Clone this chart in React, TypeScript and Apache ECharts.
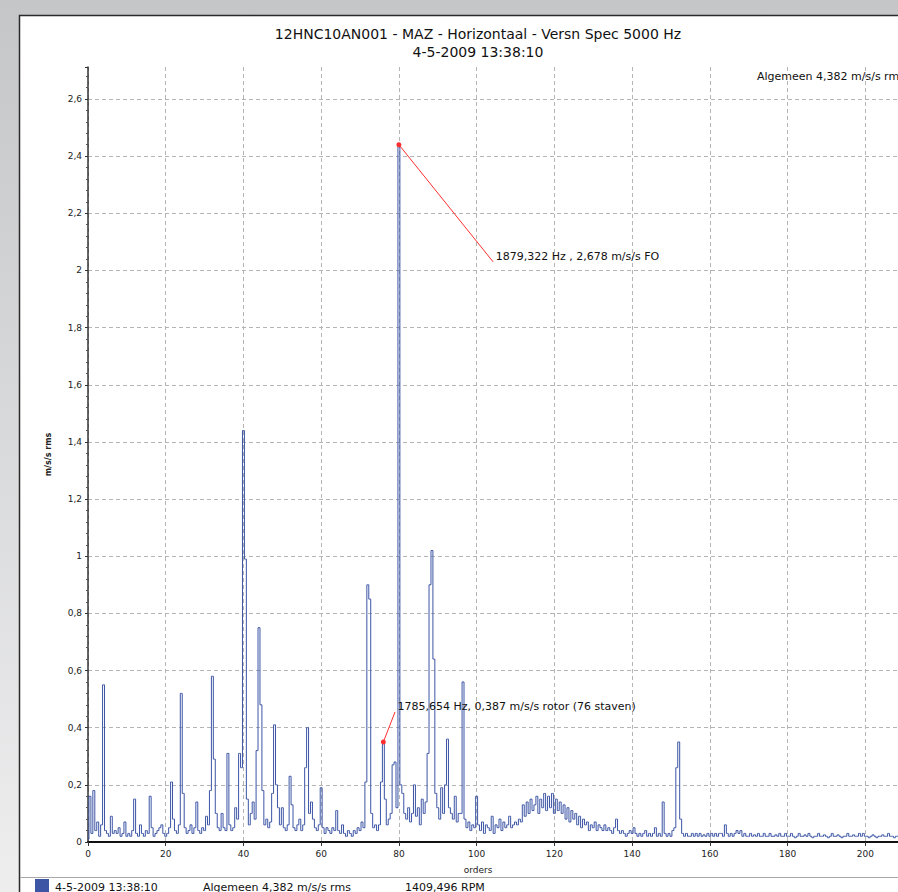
import React, { useEffect, useRef } from "react";
import * as echarts from "echarts";

// ---- data (orders 0..210, step 0.5) ----
const orderStep = 0.5;
const amp000 = [0.01,0.16,0.03,0.18,0.04,0.07,0.02,0.06,0.55,0.04,0.03,0.02,0.09,0.03,0.04,0.03,0.05,0.02,0.03,0.07];
const amp010 = [0.02,0.03,0.02,0.04,0.15,0.03,0.02,0.06,0.03,0.02,0.04,0.03,0.16,0.05,0.02,0.03,0.04,0.05,0.06,0.03];
const amp020 = [0.02,0.03,0.05,0.21,0.08,0.04,0.03,0.06,0.52,0.17,0.05,0.03,0.04,0.06,0.03,0.05,0.14,0.04,0.03,0.05];
const amp030 = [0.04,0.09,0.06,0.18,0.58,0.29,0.1,0.05,0.04,0.1,0.05,0.04,0.31,0.06,0.04,0.05,0.12,0.08,0.31,0.26];
const amp040 = [1.44,0.99,0.15,0.06,0.1,0.14,0.08,0.32,0.75,0.48,0.18,0.06,0.08,0.05,0.07,0.17,0.41,0.2,0.12,0.06];
const amp050 = [0.12,0.05,0.04,0.06,0.23,0.13,0.05,0.04,0.06,0.08,0.04,0.06,0.26,0.40,0.1,0.14,0.08,0.05,0.04,0.06];
const amp060 = [0.19,0.05,0.03,0.05,0.04,0.03,0.05,0.04,0.11,0.04,0.03,0.06,0.03,0.02,0.04,0.03,0.02,0.04,0.03,0.05];
const amp070 = [0.04,0.07,0.05,0.21,0.90,0.85,0.1,0.05,0.06,0.04,0.06,0.21,0.35,0.15,0.06,0.08,0.1,0.27,0.28,0.12];
const amp080 = [2.44,0.2,0.17,0.1,0.08,0.12,0.07,0.1,0.2,0.09,0.12,0.06,0.15,0.1,0.14,0.31,0.90,1.02,0.64,0.17];
const amp090 = [0.12,0.08,0.19,0.1,0.2,0.36,0.12,0.1,0.08,0.16,0.07,0.1,0.1,0.56,0.08,0.05,0.07,0.04,0.06,0.05];
const amp100 = [0.16,0.06,0.04,0.07,0.03,0.06,0.05,0.04,0.09,0.03,0.06,0.05,0.08,0.04,0.07,0.05,0.06,0.09,0.05,0.06];
const amp110 = [0.07,0.06,0.08,0.07,0.13,0.09,0.14,0.1,0.15,0.11,0.13,0.16,0.1,0.15,0.12,0.17,0.11,0.16,0.12,0.17];
const amp120 = [0.1,0.15,0.11,0.14,0.1,0.13,0.08,0.12,0.07,0.11,0.08,0.1,0.06,0.09,0.05,0.08,0.06,0.07,0.04,0.06];
const amp130 = [0.05,0.07,0.04,0.06,0.05,0.04,0.06,0.04,0.05,0.04,0.03,0.05,0.08,0.04,0.03,0.04,0.03,0.02,0.03,0.04];
const amp140 = [0.03,0.05,0.03,0.02,0.03,0.02,0.03,0.04,0.02,0.03,0.02,0.03,0.05,0.02,0.03,0.02,0.14,0.03,0.02,0.03];
const amp150 = [0.02,0.04,0.05,0.26,0.35,0.08,0.03,0.02,0.03,0.02,0.02,0.03,0.02,0.03,0.02,0.03,0.02,0.025,0.02,0.03];
const amp160 = [0.02,0.03,0.02,0.03,0.02,0.03,0.03,0.02,0.06,0.03,0.02,0.03,0.02,0.03,0.04,0.03,0.04,0.02,0.03,0.02];
const amp170 = [0.02,0.03,0.02,0.025,0.02,0.03,0.02,0.02,0.03,0.02,0.02,0.03,0.02,0.02,0.025,0.02,0.03,0.02,0.02,0.03];
const amp180 = [0.02,0.02,0.03,0.02,0.015,0.02,0.03,0.02,0.02,0.025,0.02,0.03,0.02,0.015,0.02,0.02,0.03,0.02,0.02,0.025];
const amp190 = [0.02,0.015,0.02,0.03,0.02,0.02,0.025,0.02,0.015,0.02,0.02,0.03,0.02,0.02,0.025,0.02,0.02,0.03,0.02,0.03];
const amp200 = [0.02,0.02,0.015,0.02,0.025,0.02,0.015,0.02,0.02,0.025,0.02,0.02,0.03,0.02,0.02,0.015,0.02,0.02,0.025,0.02,0.02];

const amplitude = [
  ...amp000, ...amp010, ...amp020, ...amp030, ...amp040, ...amp050, ...amp060,
  ...amp070, ...amp080, ...amp090, ...amp100, ...amp110, ...amp120, ...amp130,
  ...amp140, ...amp150, ...amp160, ...amp170, ...amp180, ...amp190, ...amp200,
];

const titleLines = ["12HNC10AN001 - MAZ - Horizontaal - Versn Spec 5000 Hz", "4-5-2009 13:38:10"];
const overallText = "Algemeen 4,382 m/s/s rms";
const legendTexts = ["4-5-2009 13:38:10", "Algemeen 4,382 m/s/s rms", "1409,496 RPM"];
const yAxisName = "m/s/s rms";
const xAxisName = "orders";

// annotations: marked point (order, value) and label anchor (order, value)
const annotations = [
  { point: [80, 2.44], anchor: [104.25, 2.03], text: "1879,322 Hz , 2,678 m/s/s FO" },
  { point: [76, 0.35], anchor: [79.0, 0.455], text: "1785,654 Hz, 0,387 m/s/s rotor (76 staven)" },
];

const FONT = '"DejaVu Sans", "Liberation Sans", sans-serif';
const BLUE = "#3c55a5";
const RED = "#ff2e2e";

export default function App() {
  const ref = useRef<HTMLDivElement>(null);

  useEffect(() => {
    document.body.style.margin = "0";
    if (!ref.current) return;
    const chart = echarts.init(ref.current, undefined, { renderer: "svg" });
    const spectrum = amplitude.map((v, i) => [i * orderStep, v]);

    const yFmt = (v: number) => {
      if (Math.abs(v * 5 - Math.round(v * 5)) > 1e-6) return "";
      const r = Math.round(v * 10) / 10;
      return String(r).replace(".", ",");
    };
    const xFmt = (v: number) => (v > 210 ? "" : String(v));

    chart.setOption({
      animation: false,
      textStyle: { fontFamily: FONT },
      grid: { left: 88, top: 67, right: 0, bottom: 50, containLabel: false, outerBoundsMode: "none" },
      xAxis: {
        type: "value",
        min: 0,
        max: 220,
        interval: 20,
        axisLine: { show: true, onZero: false, lineStyle: { color: "#111", width: 2 } },
        axisTick: { show: true, length: 4, lineStyle: { color: "#333" } },
        axisLabel: { fontSize: 9, color: "#222", margin: 7, fontFamily: FONT, formatter: xFmt },
        splitLine: { show: true, lineStyle: { color: "#b4b4b4", type: [4, 3], width: 1 } },
      },
      yAxis: {
        type: "value",
        min: 0,
        max: 2.712,
        interval: 0.2,
        name: yAxisName,
        nameLocation: "middle",
        nameGap: 36,
        nameTextStyle: { fontSize: 8, fontWeight: "bold", color: "#222", fontFamily: FONT },
        axisLine: { show: true, lineStyle: { color: "#333", width: 1.5 } },
        axisTick: { show: true, length: 3, lineStyle: { color: "#333" } },
        minorTick: { show: true, splitNumber: 5, length: 2, lineStyle: { color: "#555" } },
        axisLabel: { fontSize: 9, color: "#222", margin: 6, formatter: yFmt, fontFamily: FONT },
        splitLine: { show: true, showMaxLine: false, lineStyle: { color: "#b4b4b4", type: [4, 3], width: 1 } },
      },
      series: [
        {
          type: "line",
          data: spectrum,
          step: "middle",
          showSymbol: false,
          symbol: "none",
          lineStyle: { color: BLUE, width: 1 },
          itemStyle: { color: BLUE },
          z: 3,
          markLine: {
            silent: true,
            symbol: ["circle", "none"],
            symbolSize: 5,
            label: { show: false },
            lineStyle: { color: RED, width: 1, type: "solid" },
            itemStyle: { color: RED },
            data: annotations.map((a) => [
              { coord: a.point, itemStyle: { color: RED } },
              { coord: a.anchor },
            ]),
          },
          markPoint: {
            silent: true,
            symbol: "circle",
            symbolSize: 1,
            itemStyle: { color: "rgba(0,0,0,0)" },
            data: annotations.map((a) => ({
              coord: a.anchor,
              label: {
                show: true,
                position: "right",
                distance: 2,
                offset: [0, -5],
                formatter: a.text,
                color: "#111",
                fontSize: 11,
                fontFamily: FONT,
              },
            })),
          },
        },
      ],
      graphic: [
        {
          type: "rect",
          z: -100,
          silent: true,
          shape: { x: 0, y: 0, width: 960, height: 892 },
          style: {
            fill: new echarts.graphic.LinearGradient(0, 0, 0, 1, [
              { offset: 0, color: "#c5c6c8" },
              { offset: 1, color: "#eeeeef" },
            ]),
          },
        },
        {
          type: "rect",
          z: -99,
          silent: true,
          shape: { x: 19.5, y: 15.5, width: 960, height: 900 },
          style: { fill: "#ffffff", stroke: "#2a2a2a", lineWidth: 1.5 },
        },
        {
          type: "line",
          z: -98,
          silent: true,
          shape: { x1: 20, y1: 877.5, x2: 960, y2: 877.5 },
          style: { stroke: "#a8a8a8", lineWidth: 1 },
        },
        {
          type: "text",
          x: 478,
          y: 34,
          style: { text: titleLines[0], fontSize: 14, fontFamily: FONT, fill: "#111", align: "center", verticalAlign: "middle" },
        },
        {
          type: "text",
          x: 478,
          y: 52,
          style: { text: titleLines[1], fontSize: 14, fontFamily: FONT, fill: "#111", align: "center", verticalAlign: "middle" },
        },
        {
          type: "text",
          x: 757,
          y: 76,
          style: { text: overallText, fontSize: 11, fontFamily: FONT, fill: "#111", align: "left", verticalAlign: "middle" },
        },
        {
          type: "text",
          x: 478,
          y: 870,
          style: { text: xAxisName, fontSize: 9, fontFamily: FONT, fill: "#222", align: "center", verticalAlign: "middle" },
        },
        {
          type: "rect",
          shape: { x: 35, y: 879, width: 14, height: 14 },
          style: { fill: BLUE },
        },
        {
          type: "text",
          x: 55,
          y: 887,
          style: { text: legendTexts[0], fontSize: 11, fontFamily: FONT, fill: "#111", align: "left", verticalAlign: "middle" },
        },
        {
          type: "text",
          x: 203,
          y: 887,
          style: { text: legendTexts[1], fontSize: 11, fontFamily: FONT, fill: "#111", align: "left", verticalAlign: "middle" },
        },
        {
          type: "text",
          x: 405,
          y: 887,
          style: { text: legendTexts[2], fontSize: 11, fontFamily: FONT, fill: "#111", align: "left", verticalAlign: "middle" },
        },
      ],
    });

    return () => chart.dispose();
  }, []);

  return (
    <div style={{ position: "absolute", left: 0, top: 0, width: 898, height: 892, overflow: "hidden" }}>
      <div ref={ref} style={{ width: 943, height: 892 }} />
    </div>
  );
}
